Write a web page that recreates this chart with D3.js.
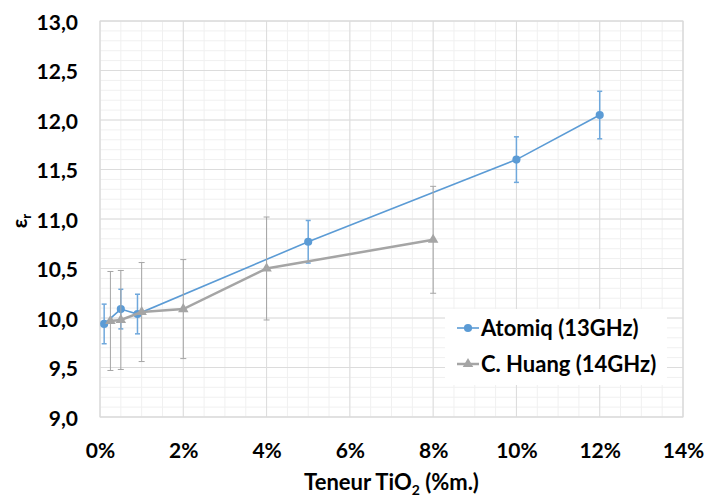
<!DOCTYPE html>
<html><head><meta charset="utf-8">
<script src="https://cdn.jsdelivr.net/npm/d3@7"></script>
<style>
html,body{margin:0;padding:0;background:#fff;}
svg{display:block;}
text{font-family:"Lato","Open Sans",sans-serif;font-weight:700;fill:#000;}
</style></head>
<body><svg id="c" width="706" height="497"></svg>
<script>
// ---- data ----
const atomiqX   = [0.001, 0.005, 0.009, 0.05, 0.10, 0.12];
const atomiqY   = [9.94, 10.09, 10.04, 10.77, 11.60, 12.05];
const atomiqErr = [0.20, 0.20, 0.20, 0.215, 0.23, 0.24];
const huangX    = [0.0025, 0.005, 0.01, 0.02, 0.04, 0.08];
const huangY    = [9.97, 9.98, 10.06, 10.09, 10.50, 10.79];
const huangErr  = [0.50, 0.50, 0.50, 0.50, 0.52, 0.54];
const xTicks = [0, 0.02, 0.04, 0.06, 0.08, 0.10, 0.12, 0.14];
const yTicks = [9.0, 9.5, 10.0, 10.5, 11.0, 11.5, 12.0, 12.5, 13.0];
const seriesNames = ["Atomiq (13GHz)", "C. Huang (14GHz)"];
const xTitle = "Teneur TiO";
const yTitle = "ε";

const svg = d3.select("#c");
const L = 100, R = 683, T = 21, B = 417;
const x = d3.scaleLinear().domain([0, 0.14]).range([L, R]);
const y = d3.scaleLinear().domain([9, 13]).range([B, T]);

// minor grid
const minorX = d3.range(0, 0.1401, 0.005);
const minorY = d3.range(9, 13.001, 0.1);
const g = svg.append("g");
g.selectAll(".mx").data(minorX).enter().append("line")
  .attr("x1", d => x(d)).attr("x2", d => x(d)).attr("y1", T).attr("y2", B)
  .attr("stroke", "#f0f0f0").attr("stroke-width", 1);
g.selectAll(".my").data(minorY).enter().append("line")
  .attr("y1", d => y(d)).attr("y2", d => y(d)).attr("x1", L).attr("x2", R)
  .attr("stroke", "#f0f0f0").attr("stroke-width", 1);
// major grid
g.selectAll(".Mx").data(xTicks).enter().append("line")
  .attr("x1", d => x(d)).attr("x2", d => x(d)).attr("y1", T).attr("y2", B)
  .attr("stroke", "#dcdcdc").attr("stroke-width", 1);
g.selectAll(".My").data(yTicks).enter().append("line")
  .attr("y1", d => y(d)).attr("y2", d => y(d)).attr("x1", L).attr("x2", R)
  .attr("stroke", "#dcdcdc").attr("stroke-width", 1);
svg.append("rect").attr("x", L).attr("y", T).attr("width", R - L).attr("height", B - T)
  .attr("fill", "none").attr("stroke", "#d9d9d9");

// axes (labels only)
const fmtY = d => d3.format(".1f")(d).replace(".", ",");
const yAxis = d3.axisLeft(y).tickValues(yTicks).tickFormat(fmtY).tickSize(0).tickPadding(22);
const ya = svg.append("g").attr("transform", `translate(${L},0)`).call(yAxis);
ya.select(".domain").remove();
ya.selectAll("text").attr("font-size", 21).attr("font-family", "Lato").attr("font-weight", 700).attr("fill", "#000").attr("dy", "0.4em");
const xAxis = d3.axisBottom(x).tickValues(xTicks).tickFormat(d3.format(".0%")).tickSize(0).tickPadding(26);
const xa = svg.append("g").attr("transform", `translate(0,${B})`).call(xAxis);
xa.select(".domain").remove();
xa.selectAll("text").attr("font-size", 21).attr("font-family", "Lato").attr("font-weight", 700).attr("fill", "#000");

// titles
const xt = svg.append("text").attr("x", (L + R) / 2).attr("y", 490).attr("text-anchor", "middle").attr("font-size", 22);
xt.append("tspan").text(xTitle);
xt.append("tspan").attr("font-size", 14).attr("dy", 5).text("2");
xt.append("tspan").attr("dy", -5).text(" (%m.)");
const yt = svg.append("text").attr("transform", "translate(27,221) rotate(-90)").attr("text-anchor", "middle").attr("font-size", 21);
yt.append("tspan").text(yTitle);
yt.append("tspan").attr("font-size", 13).attr("dy", 4).text("r");

function drawSeries(xs, ys, es, color, lw, ecolor, ew, cap, marker) {
  const data = xs.map((d, i) => ({x: d, y: ys[i], e: es[i]}));
  const s = svg.append("g");
  s.selectAll(".eb").data(data).enter().append("line")
    .attr("x1", d => x(d.x)).attr("x2", d => x(d.x))
    .attr("y1", d => y(d.y - d.e)).attr("y2", d => y(d.y + d.e))
    .attr("stroke", ecolor).attr("stroke-width", ew);
  [1, -1].forEach(sg => {
    s.selectAll(".cap" + sg).data(data).enter().append("line")
      .attr("x1", d => x(d.x) - cap).attr("x2", d => x(d.x) + cap)
      .attr("y1", d => y(d.y + sg * d.e)).attr("y2", d => y(d.y + sg * d.e))
      .attr("stroke", ecolor).attr("stroke-width", ew);
  });
  s.append("path").datum(data)
    .attr("d", d3.line().x(d => x(d.x)).y(d => y(d.y)))
    .attr("fill", "none").attr("stroke", color).attr("stroke-width", lw);
  s.selectAll(".m").data(data).enter().append("path")
    .attr("transform", d => `translate(${x(d.x)},${y(d.y)})`)
    .attr("d", marker).attr("fill", color);
}
const circ = d3.symbol().type(d3.symbolCircle).size(52)();
const tri = d3.symbol().type(d3.symbolTriangle).size(48)();
drawSeries(atomiqX, atomiqY, atomiqErr, "#5b9bd5", 1.6, "#6fa8dc", 1.5, 2.5, circ);
drawSeries(huangX, huangY, huangErr, "#a5a5a5", 2.5, "#a5a5a5", 1, 3, tri);

// legend
const lg = svg.append("g");
lg.append("rect").attr("x", 445).attr("y", 309).attr("width", 222).attr("height", 76).attr("fill", "#fff");
const lrows = [
  {name: seriesNames[0], color: "#5b9bd5", lw: 1.6, m: circ, y: 328},
  {name: seriesNames[1], color: "#a5a5a5", lw: 2.5, m: tri, y: 364}
];
lrows.forEach(r => {
  lg.append("line").attr("x1", 457).attr("x2", 479).attr("y1", r.y).attr("y2", r.y)
    .attr("stroke", r.color).attr("stroke-width", r.lw);
  lg.append("path").attr("transform", `translate(468,${r.y})`).attr("d", r.m).attr("fill", r.color);
  lg.append("text").attr("x", 481).attr("y", r.y).attr("dy", "0.36em").attr("font-size", 22).text(r.name);
});
</script></body></html>
